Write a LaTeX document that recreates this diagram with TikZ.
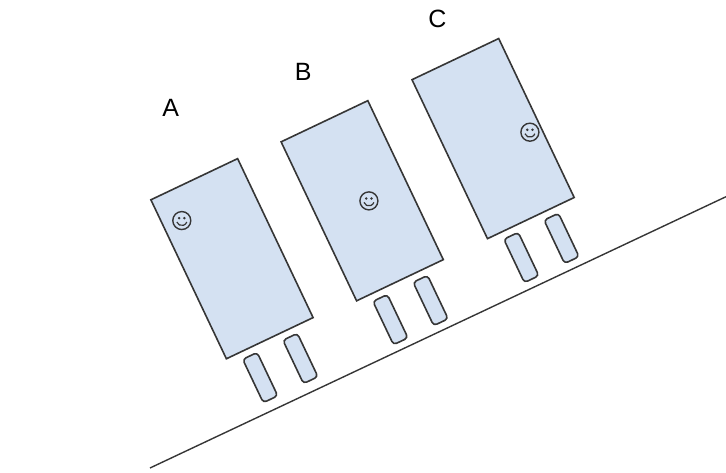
\documentclass[tikz,border=0pt]{standalone}
\usepackage{fontspec}
\setmainfont{Liberation Sans}
\usetikzlibrary{positioning}
\definecolor{bodyfill}{HTML}{D4E1F2}
\definecolor{bodyline}{HTML}{363636}
\tikzset{
  body/.style={draw=bodyline, fill=bodyfill, line width=1.6pt, minimum width=96pt, minimum height=176pt, transform shape},
  leg/.style={draw=bodyline, fill=bodyfill, line width=1.6pt, rounded corners=3.5pt, minimum width=16pt, minimum height=48pt, transform shape},
  face/.style={circle, draw=bodyline, line width=1.4pt, minimum size=18pt, inner sep=0pt},
  tag/.style={font=\fontsize{25}{30}\selectfont}
}

\begin{document}
\begin{tikzpicture}[x=1pt, y=1pt]
  \useasboundingbox (0,0) rectangle (726,472);
  \coordinate (slopebottom) at (150,4);
  \coordinate (slopetop) at (726,275.3);
  \draw[bodyline, line width=1.4pt] (slopebottom) -- (slopetop);
  \foreach \n/\x/\y/\sx/\sy in {A/232/213.3/-29/56, B/362.2/271.25/6/-3, C/493.1/333.4/36/-10} {
    \begin{scope}[shift={(\x,\y)}, rotate=25.4]
      \node[body] (body\n) at (0,0) {};
      \node[leg] (leftleg\n) at (-25.5,-119.5) {};
      \node[leg] (rightleg\n) at (19,-119.5) {};
      \node[face] (face\n) at (\sx,\sy) {};
    \end{scope}
    \fill[bodyline] ([shift={(-2.6,2.4)}]face\n.center) circle (1.4pt);
    \fill[bodyline] ([shift={(2.6,2.4)}]face\n.center) circle (1.4pt);
    \draw[bodyline, line width=1.2pt] ([shift={(-5,-1.5)}]face\n.center) arc[start angle=200, end angle=340, radius=5.3];
  }
  \node[tag] (labelA) at (170.7,363.7) {A};
  \node[tag] (labelB) at (303.3,400.3) {B};
  \node[tag] (labelC) at (437.3,452.7) {C};
\end{tikzpicture}
\end{document}
